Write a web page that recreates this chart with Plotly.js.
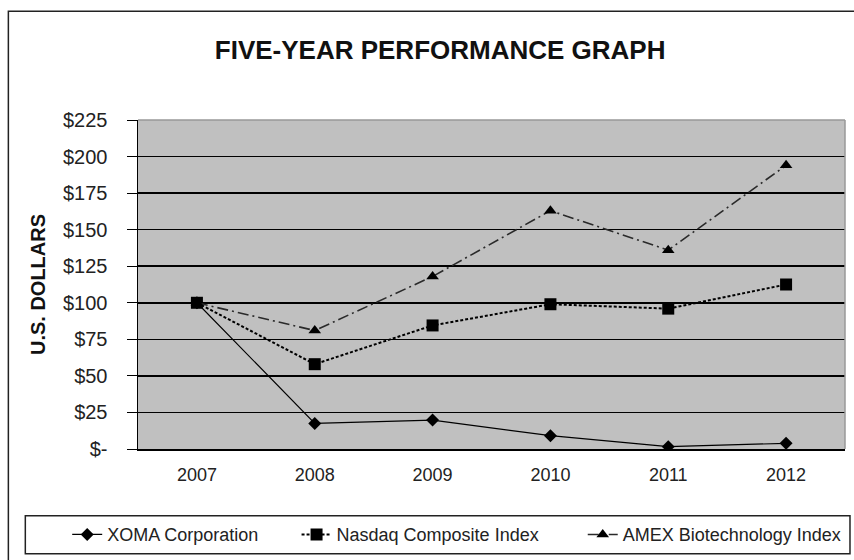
<!DOCTYPE html>
<html>
<head>
<meta charset="utf-8">
<script src="https://cdn.plot.ly/plotly-3.0.1.min.js"></script>
<style>html,body{margin:0;padding:0;background:#fff;}#chart{width:854px;height:560px;}</style>
</head>
<body>
<div id="chart"></div>
<script>
const years = ['2007', '2008', '2009', '2010', '2011', '2012'];
const xoma = [100, 17.5, 19.8, 9.1, 1.6, 3.9];
const nasdaq = [100, 58, 84.5, 99, 96, 112.5];
const amex = [100, 81, 118, 163, 136, 194];
const yTickVals = [0, 25, 50, 75, 100, 125, 150, 175, 200, 225];
const yTickText = ['$-', '$25', '$50', '$75', '$100', '$125', '$150', '$175', '$200', '$225'];

const W = 854, H = 560;
const M = {l: 138, r: 7, t: 120, b: 110};
const pw = W - M.l - M.r, ph = H - M.t - M.b;
const px = x => (x - M.l) / pw;
const py = y => (H - M.b - y) / ph;

const font = '"Liberation Sans", Arial, sans-serif';
const legFont = {family: font, size: 18, color: '#222'};

const traces = [
  {x: years, y: xoma, name: 'XOMA Corporation', type: 'scatter', mode: 'lines+markers', legend: 'legend',
   line: {color: '#000', width: 1.2}, marker: {symbol: 'diamond', size: 10, color: '#000'}},
  {x: years, y: nasdaq, name: 'Nasdaq Composite Index', type: 'scatter', mode: 'lines+markers', legend: 'legend2',
   line: {color: '#000', width: 2, dash: '3px,2px'}, marker: {symbol: 'square', size: 12, color: '#000'}},
  {x: years, y: amex, name: 'AMEX Biotechnology Index', type: 'scatter', mode: 'lines+markers', legend: 'legend3',
   line: {color: '#2a2a2a', width: 1.6, dash: '11px,4px,2px,4px'}, marker: {symbol: 'triangle-up', size: 11, color: '#000'}}
];

function leg(xpix) {
  return {orientation: 'h', x: px(xpix), xanchor: 'left', y: py(536), yanchor: 'middle',
          font: legFont, bgcolor: 'rgba(0,0,0,0)', borderwidth: 0};
}

const layout = {
  width: W, height: H,
  margin: M,
  paper_bgcolor: '#fff',
  plot_bgcolor: '#c0c0c0',
  font: {family: font, size: 18, color: '#222'},
  title: {text: '<b>FIVE-YEAR PERFORMANCE GRAPH</b>', font: {family: font, size: 26, color: '#111'},
          x: px(441), xanchor: 'center', y: 1 - 50 / H, yanchor: 'middle', xref: 'paper'},
  xaxis: {type: 'category', range: [-0.5, 5.5], showgrid: false, zeroline: false,
          showline: true, linecolor: '#000', linewidth: 2, ticks: '', tickfont: {size: 18, color: '#222'},
          ticklabelstandoff: 8, automargin: false},
  yaxis: {range: [0, 225], tickvals: yTickVals, ticktext: yTickText, showgrid: true, gridcolor: '#000', gridwidth: 1.5,
          zeroline: false, showline: true, linecolor: '#000', linewidth: 1.5, ticks: 'outside', ticklen: 10,
          tickcolor: '#000', tickfont: {size: 20, color: '#222'}, ticklabelstandoff: 15, automargin: false,
          title: {text: '<b>U.S. DOLLARS</b>', font: {size: 20, color: '#111'}, standoff: 12}},
  showlegend: true,
  legend: leg(67),
  legend2: leg(297),
  legend3: leg(584),
  shapes: [
    {type: 'line', xref: 'paper', yref: 'paper', x0: 0, x1: 1, y0: 1, y1: 1, line: {color: '#999', width: 1.5}},
    {type: 'line', xref: 'paper', yref: 'paper', x0: 1, x1: 1, y0: 0, y1: 1, line: {color: '#999', width: 1.5}},
    {type: 'rect', xref: 'paper', yref: 'paper', x0: px(8), x1: px(870), y0: py(11), y1: py(580), line: {color: '#222', width: 1.5}, layer: 'below'},
    {type: 'rect', xref: 'paper', yref: 'paper', x0: px(25), x1: px(852), y0: py(517), y1: py(555), line: {color: '#222', width: 1.5}, layer: 'below'}
  ]
};

Plotly.newPlot('chart', traces, layout, {displayModeBar: false, staticPlot: true});
</script>
</body>
</html>
